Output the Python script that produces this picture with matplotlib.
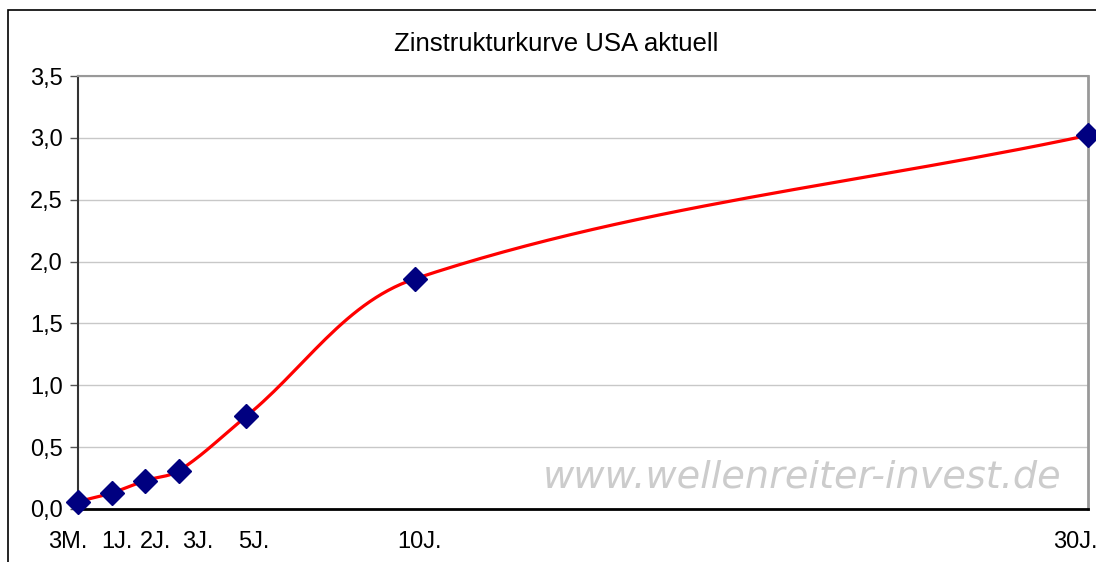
import numpy as np
import matplotlib
matplotlib.use('Agg')
import matplotlib.pyplot as plt
import matplotlib.transforms as mtrans
from matplotlib.patches import Rectangle

# maturities (years, 3M drawn at 0) and yields
maturity = [0, 1, 2, 3, 5, 10, 30]
labels = ['3M.', '1J.', '2J.', '3J.', '5J.', '10J.', '30J.']
yields = [0.06, 0.13, 0.23, 0.31, 0.75, 1.86, 3.02]
yticks = [0.0, 0.5, 1.0, 1.5, 2.0, 2.5, 3.0, 3.5]

# label offsets in pixels (category texts were not centred on the points)
label_shift = [-10, 5, 10, 19, 7, 5, -13]


def smooth(xs, ys, ax_w, ax_h, k=0.34, n=30):
    # Excel-like smoothing: cubic Bezier, chord-length weighted tangents, in screen units
    P = np.column_stack([np.asarray(xs, float) / 30.0 * ax_w,
                         np.asarray(ys, float) / 3.5 * ax_h])
    m = len(P)
    d = np.zeros_like(P)
    for i in range(m):
        a = P[max(i - 1, 0)]
        b = P[min(i + 1, m - 1)]
        v = b - a
        d[i] = v / np.hypot(*v)
    out = []
    for i in range(m - 1):
        p0, p3 = P[i], P[i + 1]
        L = np.hypot(*(p3 - p0))
        p1 = p0 + d[i] * L * k
        p2 = p3 - d[i + 1] * L * k
        for t in np.linspace(0, 1, n, endpoint=False):
            s = 1 - t
            out.append(s**3 * p0 + 3 * s * s * t * p1 + 3 * s * t * t * p2 + t**3 * p3)
    out.append(P[-1])
    out = np.array(out)
    return out[:, 0] / ax_w * 30.0, out[:, 1] / ax_h * 3.5


plt.rcParams['font.family'] = ['Liberation Sans', 'DejaVu Sans']
fig = plt.figure(figsize=(10.96, 5.62), dpi=100)
ax = fig.add_axes([78 / 1096, 1 - 509 / 562, (1088 - 78) / 1096, (509 - 76) / 562])

# outer chart frame
fig.patches.append(Rectangle((8 / 1096, -0.1), 1.2, 1 - 10 / 562 + 0.1, transform=fig.transFigure,
                             fill=False, edgecolor='black', linewidth=1.2))

sx, sy = smooth(maturity, yields, 1010, 433)
ax.plot(sx, sy, color='#ff0000', linewidth=2.3, zorder=3, clip_on=False)
ax.plot(maturity, yields, linestyle='none', marker='D', markersize=12.5,
        color='#000080', zorder=4, clip_on=False)

ax.set_xlim(0, 30)
ax.set_ylim(0, 3.5)
ax.set_yticks(yticks)
ax.set_yticklabels([f'{v:.1f}'.replace('.', ',') for v in yticks], fontsize=17)
ax.set_xticks(maturity)
ax.set_xticklabels(labels, fontsize=17)
ax.tick_params(axis='x', length=0, pad=16)
ax.tick_params(axis='y', length=6, width=1, color='#555555', pad=5)
for lab, dx in zip(ax.get_xticklabels(), label_shift):
    lab.set_transform(lab.get_transform() + mtrans.ScaledTranslation(dx / 100, 0, fig.dpi_scale_trans))

ax.grid(axis='y', color='#c8c8c8', linewidth=1)
ax.set_axisbelow(True)
ax.spines['left'].set_color('#333333')
ax.spines['left'].set_linewidth(1.5)
ax.spines['bottom'].set_color('black')
ax.spines['bottom'].set_linewidth(2)
ax.spines['top'].set_color('#999999')
ax.spines['top'].set_linewidth(1.5)
ax.spines['right'].set_color('#999999')
ax.spines['right'].set_linewidth(2)

fig.text(556 / 1096, 1 - 44 / 562, 'Zinstrukturkurve USA aktuell', ha='center', va='center', fontsize=18.5)
fig.text(802 / 1096, 1 - 478 / 562, 'www.wellenreiter-invest.de', ha='center', va='center',
         fontsize=27.5, family='DejaVu Sans', style='oblique', color='#cccccc', zorder=1)

fig.savefig('out.png', dpi=100)
